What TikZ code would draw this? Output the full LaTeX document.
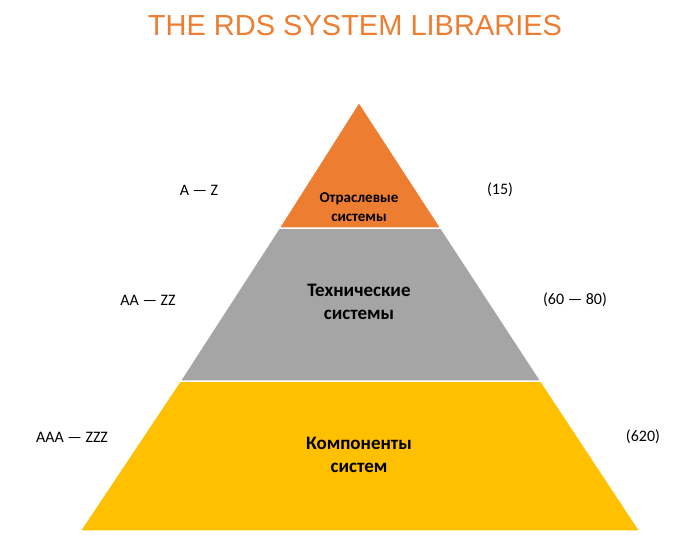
\documentclass[tikz,border=0pt]{standalone}
\usepackage{fontspec}
\setmainfont{Carlito}
\definecolor{rdsorange}{HTML}{ED7D31}
\definecolor{rdsgray}{HTML}{A5A5A5}
\definecolor{rdsyellow}{HTML}{FFC000}
\begin{document}
\begin{tikzpicture}[x=1pt,y=-1pt,
  layer/.style={draw=white,line width=1.5pt},
  lbl/.style={font=\fontsize{16}{18}\selectfont,text=black},
  inner/.style={font=\bfseries\fontsize{19}{23}\selectfont,align=center}]
\useasboundingbox (0,0) rectangle (700,554);
\node[font=\fontspec{Liberation Sans}\fontsize{29}{32}\selectfont,text=rdsorange] (title) at (355,26) {THE RDS SYSTEM LIBRARIES};
\fill[rdsyellow,layer] (180,381) -- (541,381) -- (640,531) -- (80,531) -- cycle;
\fill[rdsgray,layer] (279,228) -- (441,228) -- (541,381) -- (180,381) -- cycle;
\fill[rdsorange,layer] (359,102) -- (441,228) -- (279,228) -- cycle;
\node[inner,font=\bfseries\fontsize{15}{19}\selectfont] (t1) at (359,207) {Отраслевые\\системы};
\node[inner] (t2) at (359,302) {Технические\\системы};
\node[inner] (t3) at (359,455) {Компоненты\\систем};
\node[lbl] (l1) at (199,190) {A — Z};
\node[lbl] (r1) at (500,190) {(15)};
\node[lbl] (l2) at (148,300) {AA — ZZ};
\node[lbl] (r2) at (575,300) {(60 — 80)};
\node[lbl] (l3) at (72,437) {AAA — ZZZ};
\node[lbl] (r3) at (643,437) {(620)};
\end{tikzpicture}
\end{document}
